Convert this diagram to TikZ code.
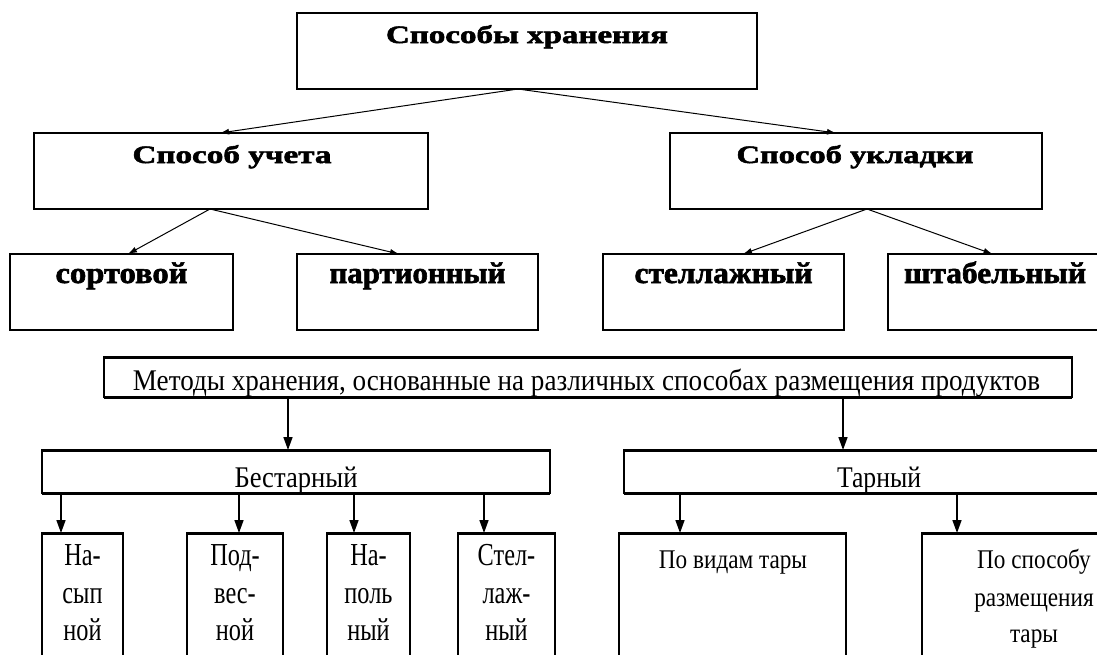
\documentclass[tikz,border=0pt]{standalone}
\usepackage{fontspec}
\setmainfont{Liberation Serif}
\newfontfamily\heavyfont[FakeBold=2]{Liberation Serif Bold}
\usetikzlibrary{arrows.meta}
\newcommand{\wfit}[2]{\resizebox{#1}{\height}{#2}}
\newcommand{\upA}{\fontsize{25}{25}\heavyfont}
\newcommand{\upB}{\fontsize{30}{30}\heavyfont}
\newcommand{\loA}{\fontsize{30}{30}\selectfont}
\newcommand{\leafL}[1]{\scalebox{0.76}[1]{\fontsize{32}{32}\selectfont #1}}
\newcommand{\tarL}[1]{\scalebox{0.86}[1]{\fontsize{27}{27}\selectfont #1}}
\begin{document}
\begin{tikzpicture}[x=1pt,y=-1pt,
  ubox/.style={draw, line width=1.2pt, inner sep=0pt, outer sep=0pt},
  lbox/.style={draw, line width=1.3pt, inner sep=0pt, outer sep=0pt},
  thickedge/.style={line width=3pt, line cap=butt},
  txt/.style={anchor=base, inner sep=0pt, outer sep=0pt},
  uarr/.style={line width=1pt, -{Latex[length=9pt,width=6pt]}},
  larr/.style={line width=1.6pt, -{Triangle[length=13pt,width=9pt]}}]
\useasboundingbox (0,0) rectangle (1097,654);
\clip (0,0) rectangle (1097,654);
\fill[white] (0,0) rectangle (1097,654);

% ---------- upper chart ----------
\node[ubox, minimum width=460pt, minimum height=76pt] (sh) at (527,51) {};
\node[ubox, minimum width=394pt, minimum height=76pt] (uch) at (231,171) {};
\node[ubox, minimum width=372pt, minimum height=76pt] (ukl) at (856,171) {};
\node[ubox, minimum width=223pt, minimum height=76pt] (sort) at (121.5,292) {};
\node[ubox, minimum width=241pt, minimum height=76pt] (part) at (417.5,292) {};
\node[ubox, minimum width=241pt, minimum height=76pt] (stel) at (723.5,292) {};
\node[ubox, minimum width=214pt, minimum height=76pt] (shtab) at (995,292) {};

\node[txt] (tsh) at (527,43) {\wfit{282pt}{\upA Способы хранения}};
\node[txt] (tuch) at (232,163) {\wfit{199pt}{\upA Способ учета}};
\node[txt] (tukl) at (855,163) {\wfit{237pt}{\upA Способ укладки}};
\node[txt] (tsort) at (121.5,283) {\wfit{132pt}{\upB сортовой}};
\node[txt] (tpart) at (417.5,283) {\wfit{176pt}{\upB партионный}};
\node[txt] (tstel) at (723.5,283) {\wfit{178pt}{\upB стеллажный}};
\node[txt] (tshtab) at (995,283) {\wfit{182pt}{\upB штабельный}};

\draw[uarr] ([xshift=-9pt]sh.south) -- ([xshift=-11pt]uch.north);
\draw[uarr] ([xshift=-9pt]sh.south) -- ([xshift=-20pt]ukl.north);
\draw[uarr] ([xshift=-21pt]uch.south) -- ([xshift=6.5pt]sort.north);
\draw[uarr] ([xshift=-21pt]uch.south) -- ([xshift=-18.5pt]part.north);
\draw[uarr] ([xshift=11pt]ukl.south) -- ([xshift=19.5pt]stel.north);
\draw[uarr] ([xshift=11pt]ukl.south) -- ([xshift=-2.5pt]shtab.north);

% ---------- lower chart ----------
\node[lbox, minimum width=968pt, minimum height=40pt] (mt) at (588,377) {};
\node[lbox, minimum width=508pt, minimum height=43pt] (bes) at (296,471.5) {};
\node[lbox, minimum width=510pt, minimum height=43pt] (tar) at (879,471.5) {};
\node[lbox, minimum width=81pt, minimum height=147pt] (l1) at (82.5,606.5) {};
\node[lbox, minimum width=96pt, minimum height=147pt] (l2) at (235,606.5) {};
\node[lbox, minimum width=83pt, minimum height=147pt] (l3) at (368.5,606.5) {};
\node[lbox, minimum width=97pt, minimum height=147pt] (l4) at (506.5,606.5) {};
\node[lbox, minimum width=227pt, minimum height=147pt] (t1) at (732.5,606.5) {};
\node[lbox, minimum width=236pt, minimum height=147pt] (t2) at (1040,606.5) {};

\foreach \n in {mt,bes,tar} {
  \draw[thickedge] (\n.north west) -- (\n.north east);
  \draw[thickedge] (\n.south west) -- (\n.south east);
}
\foreach \n in {l1,l2,l3,l4,t1,t2} {
  \draw[thickedge] (\n.north west) -- (\n.north east);
}

\node[txt] (tmt) at (586.5,390) {\wfit{907pt}{\loA Методы хранения, основанные на различных способах размещения продуктов}};
\node[txt] (tbes) at (296,487) {\wfit{123pt}{\loA Бестарный}};
\node[txt] (ttar) at (879,487) {\wfit{84pt}{\loA Тарный}};

\node[txt] (l1a) at (82.5,565) {\leafL{На-}};
\node[txt] (l1b) at (82.5,603) {\leafL{сып}};
\node[txt] (l1c) at (82.5,640) {\leafL{ной}};
\node[txt] (l2a) at (235,565) {\leafL{Под-}};
\node[txt] (l2b) at (235,603) {\leafL{вес-}};
\node[txt] (l2c) at (235,640) {\leafL{ной}};
\node[txt] (l3a) at (368.5,565) {\leafL{На-}};
\node[txt] (l3b) at (368.5,603) {\leafL{поль}};
\node[txt] (l3c) at (368.5,640) {\leafL{ный}};
\node[txt] (l4a) at (506.5,565) {\leafL{Стел-}};
\node[txt] (l4b) at (506.5,603) {\leafL{лаж-}};
\node[txt] (l4c) at (506.5,640) {\leafL{ный}};

\node[txt] (t1a) at (733,568) {\tarL{По видам тары}};
\node[txt] (t2a) at (1034,568) {\tarL{По способу}};
\node[txt] (t2b) at (1034,606) {\tarL{размещения}};
\node[txt] (t2c) at (1034,642) {\tarL{тары}};

\draw[larr] ([xshift=-300pt]mt.south) -- ([xshift=-8pt]bes.north);
\draw[larr] ([xshift=255pt]mt.south) -- ([xshift=-36pt]tar.north);
\draw[larr] ([xshift=-235pt]bes.south) -- ([xshift=-21.5pt]l1.north);
\draw[larr] ([xshift=-57pt]bes.south) -- ([xshift=4pt]l2.north);
\draw[larr] ([xshift=58pt]bes.south) -- ([xshift=-14.5pt]l3.north);
\draw[larr] ([xshift=188pt]bes.south) -- ([xshift=-22.5pt]l4.north);
\draw[larr] ([xshift=-199pt]tar.south) -- ([xshift=-52.5pt]t1.north);
\draw[larr] ([xshift=78pt]tar.south) -- ([xshift=-83pt]t2.north);
\end{tikzpicture}
\end{document}
